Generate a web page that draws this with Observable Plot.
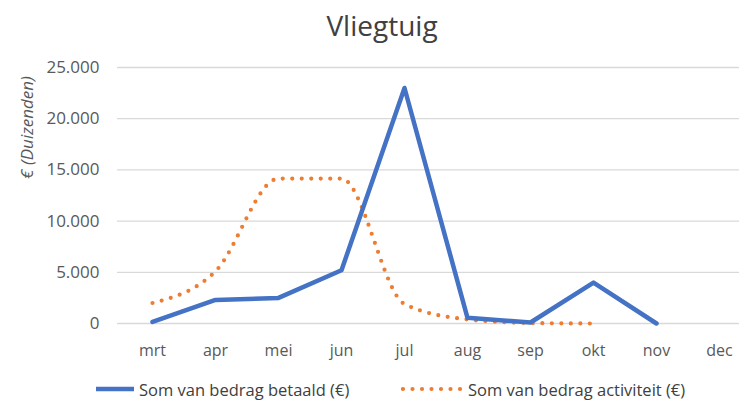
<!DOCTYPE html>
<html>
<head>
<meta charset="utf-8">
<script src="https://cdn.jsdelivr.net/npm/d3@7"></script>
<script src="https://cdn.jsdelivr.net/npm/@observablehq/plot@0.6"></script>
<style>
  html, body { margin: 0; padding: 0; background: #fff; overflow: hidden; width: 739px; height: 406px; }
  #title { height: 48px; line-height: 50px; text-align: center; font-family: "Open Sans", sans-serif; font-size: 28px; color: #404040; width: 764px; }
  #legend { position: absolute; top: 377px; left: 0; width: 739px; height: 24px; font-family: "Open Sans", sans-serif; font-size: 16.5px; color: #404040; }
  #legend .item { position: absolute; top: 0; display: flex; align-items: center; height: 24px; }
  #legend svg { display: block; }
</style>
</head>
<body>
<div id="title">Vliegtuig</div>
<div id="chart"></div>
<div id="legend"></div>
<script>
const months = ["mrt", "apr", "mei", "jun", "jul", "aug", "sep", "okt", "nov", "dec"];
const betaaldMonths = ["mrt", "apr", "mei", "jun", "jul", "aug", "sep", "okt", "nov"];
const betaald = [150, 2300, 2500, 5200, 23000, 550, 100, 4000, 0];
const activiteitMonths = ["mrt", "apr", "mei", "jun", "jul", "aug", "sep", "okt"];
const activiteit = [2000, 5100, 14150, 14150, 1900, 400, 50, 0];
const yTicks = [0, 5000, 10000, 15000, 20000, 25000];
const yTickLabels = ["0", "5.000", "10.000", "15.000", "20.000", "25.000"];
const seriesNames = ["Som van bedrag betaald (€)", "Som van bedrag activiteit (€)"];

const blue = "#4472C4";
const orange = "#ED7D31";

const dataB = betaaldMonths.map((m, i) => ({month: m, value: betaald[i]}));
const dataA = activiteitMonths.map((m, i) => ({month: m, value: activiteit[i]}));

const chart = Plot.plot({
  width: 760,
  height: 320,
  marginLeft: 117,
  marginRight: 7,
  marginTop: 19,
  marginBottom: 45,
  style: {maxWidth: "none", fontFamily: "'Open Sans', sans-serif", fontSize: "16px", color: "#595959", background: "#fff", overflow: "visible"},
  x: {type: "point", domain: months, padding: 0.5, label: null},
  y: {domain: [0, 25000], label: null},
  marks: [
    Plot.ruleY(yTicks, {stroke: "#d9d9d9", strokeWidth: 1.3}),
    Plot.axisY({ticks: yTicks, tickFormat: (d) => yTickLabels[yTicks.indexOf(d)], tickSize: 0, tickPadding: 18, label: null, fontSize: 17}),
    Plot.axisX({tickSize: 0, tickPadding: 21, label: null, fontSize: 16}),
    Plot.text(["€ (Duizenden)"], {frameAnchor: "left", textAnchor: "middle", dx: -90, dy: -68, rotate: -90, fontStyle: "italic", fontSize: 17, fill: "#595959"}),
    Plot.line(dataA, {x: "month", y: "value", stroke: orange, strokeWidth: 4.2, strokeDasharray: "0 9.5", strokeLinecap: "round", curve: "monotone-x"}),
    Plot.line(dataB, {x: "month", y: "value", stroke: blue, strokeWidth: 4.5, strokeLinejoin: "round"})
  ]
});
document.getElementById("chart").appendChild(chart);

const legend = document.getElementById("legend");
const items = [
  {name: seriesNames[0], color: blue, dash: null, left: 94, len: 40},
  {name: seriesNames[1], color: orange, dash: "0 9.5", left: 401, len: 62}
];
for (const it of items) {
  const div = document.createElement("div");
  div.className = "item";
  div.style.left = it.left + "px";
  const ns = "http://www.w3.org/2000/svg";
  const svg = document.createElementNS(ns, "svg");
  svg.setAttribute("width", it.len + 4);
  svg.setAttribute("height", 10);
  const line = document.createElementNS(ns, "line");
  line.setAttribute("x1", 2); line.setAttribute("x2", it.len);
  line.setAttribute("y1", 5); line.setAttribute("y2", 5);
  line.setAttribute("stroke", it.color);
  line.setAttribute("stroke-width", it.dash ? 4.2 : 4.5);
  if (it.dash) { line.setAttribute("stroke-dasharray", it.dash); line.setAttribute("stroke-linecap", "round"); }
  svg.appendChild(line);
  const span = document.createElement("span");
  span.textContent = it.name;
  span.style.marginLeft = "1px";
  div.appendChild(svg);
  div.appendChild(span);
  legend.appendChild(div);
}
</script>
</body>
</html>
